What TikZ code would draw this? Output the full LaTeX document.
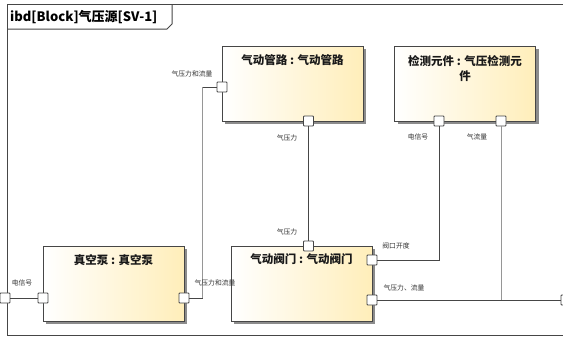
\documentclass[tikz,border=0pt]{standalone}
\usepackage{fontspec}
\newfontfamily\cjk{Noto Sans CJK SC}
\usetikzlibrary{shadows,calc}
\definecolor{blk}{RGB}{255,238,186}
\definecolor{edge}{RGB}{70,70,70}
\definecolor{lite}{RGB}{150,150,150}
\tikzset{
  block/.style={draw=edge, line width=1pt, left color=white, right color=blk,
    minimum width=141pt, minimum height=75pt, inner sep=0pt,
    drop shadow={shadow xshift=3pt, shadow yshift=-3pt, fill=black!45, opacity=1}},
  btitle/.style={font=\cjk\bfseries\fontsize{11.5}{15}\selectfont, align=center, inner sep=0pt, text=black!90},
  port/.style={draw=edge, line width=0.9pt, fill=white, minimum size=10pt, inner sep=0pt, rounded corners=0.8pt},
  plabel/.style={font=\cjk\fontsize{6.8}{8}\selectfont, inner sep=0pt, text=black!80},
  conn/.style={draw=edge, line width=1pt},
  connlite/.style={draw=lite, line width=1pt},
}
\begin{document}
\begin{tikzpicture}[x=1pt,y=-1pt]
\useasboundingbox[fill=white] (0,0) rectangle (563,338);
% frame
\draw[edge, line width=1pt] (7,4) -- (570,4);
\draw[edge, line width=1pt] (7,4) -- (7,335) -- (570,335);
\draw[edge, line width=1pt] (172,4) -- (172,24) -- (167,29) -- (7,29);
\node[font=\cjk\bfseries\fontsize{13}{15}\selectfont, anchor=west, inner sep=0pt] (title) at (10,17) {ibd[Block]气压源[SV-1]};
% blocks
\node[block] (pg) at (292.5,83.5) {};
\node[block] (dt) at (465,83.5) {};
\node[block] (vp) at (113.5,283.5) {};
\node[block] (vv) at (301.5,283.5) {};
\node[btitle] (pgt) at (292.5,60) {气动管路 : 气动管路};
\node[btitle] (dtt) at (465,69) {检测元件 : 气压检测元\\件};
\node[btitle] (vpt) at (113.5,260) {真空泵 : 真空泵};
\node[btitle] (vvt) at (301.5,259) {气动阀门 : 气动阀门};
% ports
\node[port] (pgL) at (222,87) {};
\node[port] (pgB) at (308.5,121) {};
\node[port] (dtL) at (439,121) {};
\node[port] (dtR) at (501,121) {};
\node[port] (vpL) at (43,298) {};
\node[port] (vpR) at (184,298) {};
\node[port] (vvT) at (308.5,246) {};
\node[port] (vvR1) at (372,260) {};
\node[port] (vvR2) at (372,300) {};
\node[port] (frL) at (5,298) {};
\node[port] (frR) at (566,300) {};
% bend points
\coordinate (b1) at (202.5,0);
% connectors
\draw[conn] (vpR.east) -- (vpR.east -| b1);
\draw[connlite] (vpR.east -| b1) -- (b1 |- pgL);
\draw[conn] (b1 |- pgL) -- (pgL.west);
\draw[conn] (pgB.south) -- (vvT.north);
\draw[conn] (dtL.south) |- (vvR1.east);
\draw[conn] (vvR2.east) -- (frR.west);
\draw[connlite] (dtR.south) -- (dtR.south |- vvR2);
\draw[conn] (frL.east) -- (vpL.west);
% port labels
\node[plabel] (l1) at (192,74) {气压力和流量};
\node[plabel] (l2) at (287,138) {气压力};
\node[plabel] (l3) at (418,137) {电信号};
\node[plabel] (l4) at (477,137) {气流量};
\node[plabel] (l5) at (22,283) {电信号};
\node[plabel] (l6) at (215,283) {气压力和流量};
\node[plabel] (l7) at (287,232) {气压力};
\node[plabel] (l8) at (396,246) {阀口开度};
\node[plabel] (l9) at (404,288) {气压力、流量};
\end{tikzpicture}
\end{document}
